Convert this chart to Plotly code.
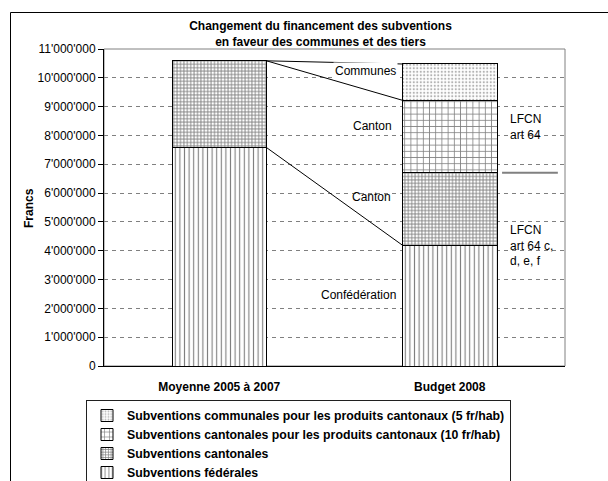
import plotly.graph_objects as go

# DATA (francs)
categories = ["Moyenne 2005 à 2007", "Budget 2008"]
subv_federales = [7580000, 4190000]
subv_cantonales = [3010000, 2520000]
subv_cant_produits = [0, 2510000]
subv_communales = [0, 1260000]

series_names = [
    "Subventions fédérales",
    "Subventions cantonales",
    "Subventions cantonales pour les produits cantonaux (10 fr/hab)",
    "Subventions communales pour les produits cantonaux (5 fr/hab)",
]

y_ticks = [i * 1000000 for i in range(12)]

W = 608
H = 481
L, R, T, B = 104, 43, 49, 115
FONT = "Arial, Liberation Sans, sans-serif"
bar_w = 0.41
xpos = list(range(len(categories)))

pw = W - L - R
ph = H - T - B


def px_x(p):
    # screen pixel -> paper x
    return (p - L) / pw


def px_y(p):
    # screen pixel -> paper y
    return (H - B - p) / ph


fig = go.Figure()

# stacked bars with hatch patterns
styles = [
    dict(shape="|", size=4.6, solidity=0.24, fgcolor="black"),
    dict(shape="+", size=3.4, solidity=0.45, fgcolor="black"),
    dict(shape="+", size=6.2, solidity=0.24, fgcolor="black"),
    dict(shape=".", size=3.5, solidity=0.3, fgcolor="#666666"),
]
values = [subv_federales, subv_cantonales, subv_cant_produits, subv_communales]

for name, vals, pat in zip(series_names, values, styles):
    fig.add_trace(go.Bar(
        x=xpos,
        y=vals,
        name=name,
        width=bar_w,
        marker=dict(color="white", pattern=dict(bgcolor="white", **pat),
                    line=dict(color="black", width=1)),
        hoverinfo="y+name",
    ))

# connecting lines between the two bars
tot = [sum(v[i] for v in values) for i in range(len(categories))]
x_a = xpos[0] + bar_w / 2
x_b = xpos[1] - bar_w / 2
connectors = [
    [tot[0], tot[1]],
    [tot[0], tot[1] - subv_communales[1]],
    [subv_federales[0], subv_federales[1]],
]
for ys in connectors:
    fig.add_trace(go.Scatter(
        x=[x_a, x_b], y=ys, mode="lines",
        line=dict(color="black", width=1),
        showlegend=False, hoverinfo="skip",
    ))

# text labels inside the chart
labels = [
    ("Communes", 0.776, 10220000, "right", "white"),
    ("Canton", 0.665, 8330000, "center", None),
    ("Canton", 0.661, 5850000, "center", None),
    ("Confédération", 0.606, 2470000, "center", None),
]
for txt, xx, yy, anchor, bg in labels:
    fig.add_annotation(x=xx, y=yy, text=txt, showarrow=False, xanchor=anchor,
                       bgcolor=bg, font=dict(size=12, color="black", family=FONT))

fig.add_annotation(x=1.253, y=8280000, text="LFCN<br>art 64", showarrow=False,
                   xanchor="left", align="left",
                   font=dict(size=12, color="black", family=FONT))
fig.add_annotation(x=1.253, y=4190000, text="LFCN<br>art 64 c,<br>d, e, f", showarrow=False,
                   xanchor="left", align="left",
                   font=dict(size=12, color="black", family=FONT))

# grey separator right of the second bar
sep_y = subv_federales[1] + subv_cantonales[1]
fig.add_shape(type="line", xref="x", yref="y", x0=1.227, x1=1.469, y0=sep_y, y1=sep_y,
              line=dict(color="#808080", width=2))

# plot area frame (top / right in grey)
fig.add_shape(type="rect", xref="paper", yref="paper", x0=0, x1=1, y0=0, y1=1,
              line=dict(color="#808080", width=1), layer="below")

# outer chart frame: only top and left edges are inside the window
fig.add_shape(type="line", xref="paper", yref="paper",
              x0=px_x(10.5), x1=px_x(700), y0=px_y(12.5), y1=px_y(12.5),
              line=dict(color="black", width=1))
fig.add_shape(type="line", xref="paper", yref="paper",
              x0=px_x(10.5), x1=px_x(10.5), y0=px_y(12.5), y1=px_y(560),
              line=dict(color="black", width=1))

# y axis title
fig.add_annotation(xref="paper", yref="paper", x=px_x(29), y=px_y(208), text="<b>Francs</b>",
                   textangle=-90, showarrow=False, xanchor="center", yanchor="middle",
                   font=dict(size=12, color="black", family=FONT))

fig.update_layout(
    width=W,
    height=H,
    margin=dict(l=L, r=R, t=T, b=B, autoexpand=False),
    barmode="stack",
    separators=".'",
    paper_bgcolor="white",
    plot_bgcolor="white",
    font=dict(family=FONT, size=12, color="black"),
    title=dict(
        text="<b>Changement du financement des subventions<br>en faveur des communes et des tiers</b>",
        x=320.5 / W, xanchor="center", y=1 - 30 / H, yanchor="middle",
        font=dict(size=12, color="black", family=FONT),
    ),
    legend=dict(
        x=px_x(86), xanchor="left",
        y=px_y(400), yanchor="top",
        traceorder="reversed",
        bordercolor="#202020", borderwidth=1,
        bgcolor="white",
        itemwidth=30,
        font=dict(size=12.3, color="black", family=FONT, weight="bold"),
    ),
    xaxis=dict(
        range=[-0.5, 1.5],
        tickvals=xpos,
        ticktext=["<b>" + c + "</b>" for c in categories],
        showline=True, linecolor="black", linewidth=1,
        showgrid=False, ticks="", zeroline=False,
        ticklabelstandoff=10,
        fixedrange=True,
    ),
    yaxis=dict(
        range=[0, 11000000],
        tickvals=y_ticks,
        tickformat=",d",
        showline=True, linecolor="black", linewidth=1,
        ticks="outside", ticklen=5, tickcolor="black",
        showgrid=True, gridcolor="#808080", griddash="4px,4px", gridwidth=1,
        zeroline=False,
        fixedrange=True,
    ),
)

# drop the default page margin so the figure sits at the window corner
fig.write_html("out.html", config={"displayModeBar": False},
               post_script="document.body.style.margin='0';document.body.style.overflow='hidden';")
